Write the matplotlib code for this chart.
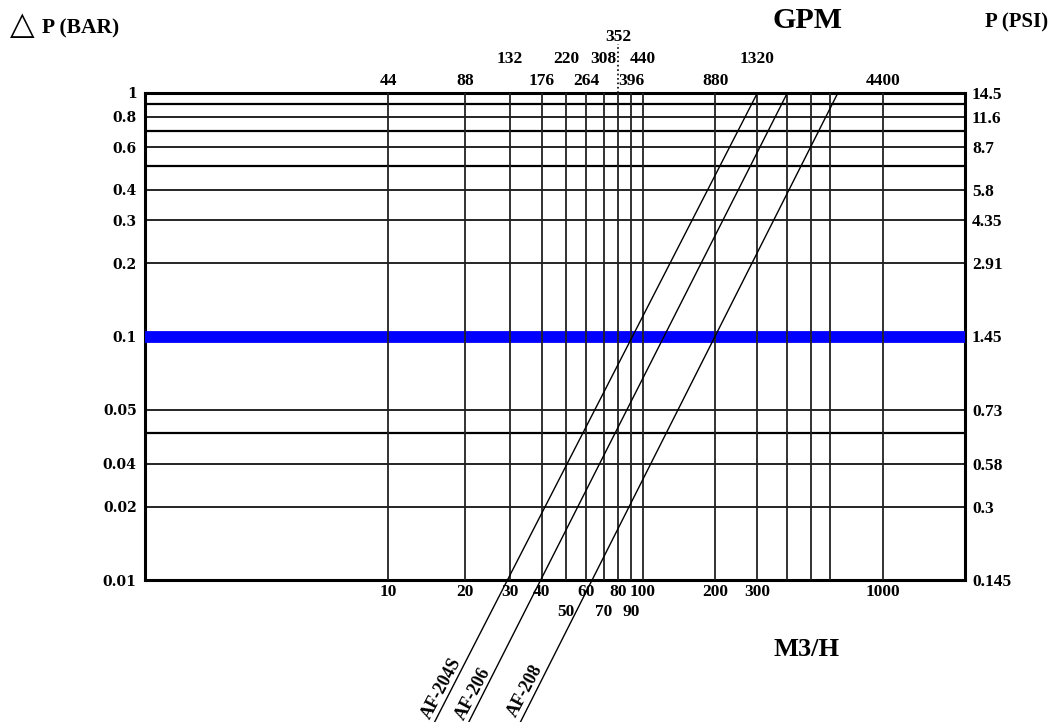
import matplotlib
matplotlib.use("Agg")
import matplotlib.pyplot as plt
import numpy as np
from matplotlib.transforms import blended_transform_factory

# 流量 (M3/H) の縦線と GPM 換算値
flow_m3h = [10, 20, 30, 40, 50, 60, 70, 80, 90, 100, 200, 300, 400, 500, 600, 1000]
bottom_row1 = [10, 20, 30, 40, 60, 80, 100, 200, 300, 1000]
bottom_row2 = [50, 70, 90]
gpm_row1 = {10: '44', 20: '88', 40: '176', 60: '264', 90: '396', 200: '880', 1000: '4400'}
gpm_row2 = {30: '132', 50: '220', 70: '308', 100: '440', 300: '1320'}
gpm_row3 = {80: '352'}

# 圧力損失 (BAR) の横線
dp_lines = [1, 0.9, 0.8, 0.7, 0.6, 0.5, 0.4, 0.3, 0.2, 0.1, 0.05, 0.04, 0.03, 0.02, 0.01]
bar_ticks = [1, 0.8, 0.6, 0.4, 0.3, 0.2, 0.1, 0.05, 0.03, 0.02, 0.01]
bar_labels = ['1', '0.8', '0.6', '0.4', '0.3', '0.2', '0.1', '0.05', '0.04', '0.02', '0.01']
psi_labels = ['14.5', '11.6', '8.7', '5.8', '4.35', '2.91', '1.45', '0.73', '0.58', '0.3', '0.145']

# 各モデルの線 (両端)
models = ['AF-204S', 'AF-206', 'AF-208']
q_low = [15.2, 20.7, 33]
q_high = [300, 400, 650]
dp_low = [0.0026, 0.0026, 0.0026]
dp_high = [1, 1, 1]
label_q = [16.2, 21.5, 34.5]
label_dp = [0.0036, 0.0034, 0.0035]

# 手描きの対数目盛 (10年ごとの幅が少し違う)
dec_log = [0.0, 1.0, 2.0, 3.0, 3.343]
dec_pos = [0.0, 243.0, 498.0, 737.7, 820.0]


def fwd(x):
    x = np.clip(np.asarray(x, dtype=float), 1e-9, None)
    return np.interp(np.log10(x), dec_log, dec_pos)


def inv(p):
    return 10 ** np.interp(np.asarray(p, dtype=float), dec_pos, dec_log)


plt.rcParams['font.family'] = ['Liberation Serif', 'DejaVu Serif']
plt.rcParams['font.weight'] = 'bold'

fig = plt.figure(figsize=(10.53, 7.22), dpi=100)
ax = fig.add_axes([145 / 1053, 1 - 580 / 722, 820 / 1053, 487 / 722])
ax.set_xscale('function', functions=(fwd, inv))
ax.set_yscale('log')
ax.set_xlim(1, 10 ** 3.343)
ax.set_ylim(0.01, 1)

for y in dp_lines:
    lw = 1.6 if y in (0.9, 0.7, 0.5, 0.04, 1) else 1.2
    ax.axhline(y, color='black', lw=lw, zorder=2)
ax.axhline(0.1, color='#0000ff', lw=8.5, zorder=3)
for x in flow_m3h:
    ax.axvline(x, color='#222222', lw=1.3, zorder=4)

for m, ql, qh, dl, dh in zip(models, q_low, q_high, dp_low, dp_high):
    ax.plot([ql, qh], [dl, dh], color='black', lw=1.0, clip_on=False, zorder=5)
for m, lq, ld in zip(models, label_q, label_dp):
    ax.text(lq, ld, m, rotation=62, ha='center', va='center', fontsize=13,
            fontweight='bold', clip_on=False)

for s in ax.spines.values():
    s.set_linewidth(2.2)

ax.set_xticks([])
ax.xaxis.set_minor_locator(plt.NullLocator())
ax.set_yticks(bar_ticks)
ax.set_yticklabels(bar_labels, fontsize=10, fontweight='bold', family=['DejaVu Serif'])
ax.tick_params(axis='y', length=0, pad=6)
ax.yaxis.set_minor_locator(plt.NullLocator())

ax2 = ax.twinx()
ax2.set_yscale('log')
ax2.set_ylim(0.01, 1)
ax2.set_yticks(bar_ticks)
ax2.set_yticklabels(psi_labels, fontsize=12.5, fontweight='bold')
ax2.yaxis.set_minor_locator(plt.NullLocator())
ax2.tick_params(axis='y', length=0, pad=5)
for s in ax2.spines.values():
    s.set_visible(False)

tr = blended_transform_factory(ax.transData, ax.transAxes)
for x in bottom_row1:
    ax.text(x, -0.025, str(x), transform=tr, ha='center', va='center', fontsize=12.5)
for x in bottom_row2:
    ax.text(x, -0.066, str(x), transform=tr, ha='center', va='center', fontsize=12.5)
for row, yy in ((gpm_row1, 1.025), (gpm_row2, 1.07), (gpm_row3, 1.115)):
    for x, lab in row.items():
        ax.text(x, yy, lab, transform=tr, ha='center', va='center', fontsize=12.5)
ax.plot([80, 80], [1.0, 1.1], transform=tr, color='black', lw=1.2, ls=':', clip_on=False)

fig.text(10 / 1053, 1 - 26 / 722, '\u25b3', family=['DejaVu Sans'], fontsize=23,
         va='center', ha='left', fontweight='normal')
fig.text(42 / 1053, 1 - 28 / 722, 'P (BAR)', fontsize=15.5, va='center', ha='left')
fig.text(807 / 1053, 1 - 21 / 722, 'GPM', fontsize=21.5, va='center', ha='center')
fig.text(1048 / 1053, 1 - 22 / 722, 'P (PSI)', fontsize=15, va='center', ha='right')
fig.text(807 / 1053, 1 - 649 / 722, 'M3/H', fontsize=19, va='center', ha='center')

fig.savefig('out.png', dpi=100)
